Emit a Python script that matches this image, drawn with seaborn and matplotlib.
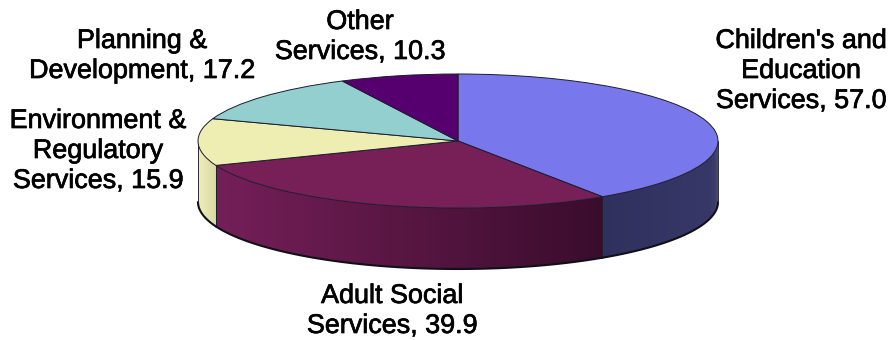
import numpy as np
import matplotlib
matplotlib.use("Agg")
import matplotlib.pyplot as plt
import matplotlib.patheffects as pe
from matplotlib.colors import to_rgb
import seaborn as sns

# Budget shares, clockwise from twelve o'clock
names = ["Children's and\nEducation\nServices", "Adult Social\nServices",
         "Environment &\nRegulatory\nServices", "Planning &\nDevelopment", "Other\nServices"]
values = [57.0, 39.9, 15.9, 17.2, 10.3]
top_colors = ["#7878EC", "#771F57", "#EEEEB2", "#93CFCF", "#560070"]
wall_light = ["#383868", "#741F58", "#EEEEB4", "#93CFCF", "#560070"]
wall_dark = ["#30305F", "#3A0C2C", "#D8D8A0", "#93CFCF", "#560070"]
label_xy = [(801, 71), (392, 311), (98, 151), (142, 56), (360, 37)]

W, H = 893, 340
CX, CY, RX, RY = 458.0, 141.0, 260.0, 67.0
DEPTH = 61.0 / RY

sns.set_theme(style="white")
plt.rcParams["font.family"] = ["Liberation Sans", "DejaVu Sans"]

fig = plt.figure(figsize=(W / 100, H / 100), dpi=100, facecolor="white")
ax = fig.add_axes([0, 0, 1, 1])

# Unit circle in the data space, stretched to an ellipse by the limits
wedges, _ = ax.pie(values, startangle=90, counterclock=False, colors=sns.color_palette(top_colors),
                   radius=1, wedgeprops=dict(edgecolor="#1c1c2c", linewidth=0.7))
for wedge in wedges:
    wedge.set_zorder(5)
ax.set_aspect("auto")
ax.set_xlim((0 - CX) / RX, (W - CX) / RX)
ax.set_ylim((CY - H) / RY, (CY - 0) / RY)
ax.set_axis_off()

# Side wall: only the front half of the disc (90 to 270 degrees clockwise) shows
edges = np.concatenate([[0], np.cumsum(values)]) / np.sum(values) * 360
for i, (a0, a1) in enumerate(zip(edges[:-1], edges[1:])):
    lo, hi = max(a0, 90), min(a1, 270)
    if lo >= hi:
        continue
    ang = np.radians(np.linspace(lo, hi, 90))
    c_right, c_left = np.array(to_rgb(wall_dark[i])), np.array(to_rgb(wall_light[i]))
    if i == 0:
        c_right, c_left = c_left, c_right
    xs, ys = np.sin(ang), np.cos(ang)
    span = xs.max() - xs.min()
    # Each strip overlaps its neighbour so the shading has no seams
    for k in range(len(ang) - 1):
        t = (xs[k] - xs.min()) / span
        col = c_left + (c_right - c_left) * t
        m = min(k + 2, len(ang) - 1)
        ax.fill([xs[k], xs[m], xs[m], xs[k]],
                [ys[k], ys[m], ys[m] - DEPTH, ys[k] - DEPTH],
                color=col, linewidth=0, zorder=2)
    ax.plot(xs, ys - DEPTH, color="#101018", lw=1.5, zorder=3)
    ax.plot([xs[-1]] * 2, [ys[-1], ys[-1] - DEPTH], color="#202028", lw=0.7, zorder=3)

# Vertical silhouette at both ends of the disc
for side in (-1, 1):
    ax.plot([side, side], [0, -DEPTH], color="#303038", lw=0.7, zorder=3)

for name, val, (px, py) in zip(names, values, label_xy):
    fig.text(px / W, 1 - py / H, f"{name}, {val:.1f}", ha="center", va="center",
             fontsize=19.4, linespacing=1.2, color="black",
             path_effects=[pe.withStroke(linewidth=0.5, foreground="black")])

fig.savefig("out.png", dpi=100)
